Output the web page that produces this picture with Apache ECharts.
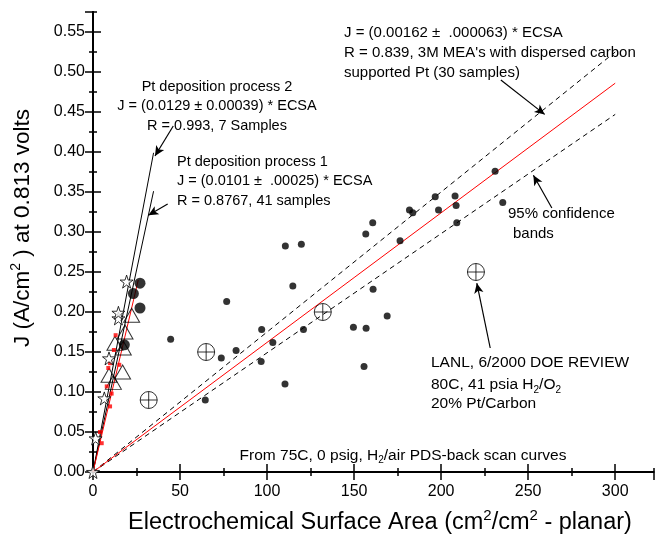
<!DOCTYPE html>
<html>
<head>
<meta charset="utf-8">
<script src="https://cdn.jsdelivr.net/npm/echarts@6/dist/echarts.min.js"></script>
<style>html,body{margin:0;padding:0;background:#fff;}#c{width:660px;height:534px;}</style>
</head>
<body>
<div id="c"></div>
<script>
// ---- data ----
const xTicks = [0, 50, 100, 150, 200, 250, 300];
const yTicks = [0, 0.05, 0.1, 0.15, 0.2, 0.25, 0.3, 0.35, 0.4, 0.45, 0.5, 0.55];
// 3M MEA's with dispersed carbon supported Pt (30 samples)
const mea3M = [[44.6,0.166],[64.5,0.090],[73.7,0.1425],[76.8,0.213],[82.2,0.152],[96.6,0.138],[96.9,0.178],[103.3,0.162],[110.3,0.110],[110.5,0.2825],[114.8,0.2325],[119.7,0.2846],[120.9,0.178],[149.6,0.181],[155.7,0.132],[156.7,0.2975],[156.9,0.1796],[160.7,0.3116],[160.9,0.2283],[169,0.195],[176.4,0.289],[181.8,0.3275],[183.7,0.324],[196.6,0.344],[198.5,0.3275],[208,0.345],[208.6,0.333],[209,0.3117],[231,0.376],[235.4,0.337]];
// LANL reference points
const lanl = [[32,0.09],[65,0.15],[132,0.20],[220,0.25]];
// Pt deposition process 2 (stars)
const process2 = [[0,0],[1.5,0.042],[6.5,0.092],[9.2,0.142],[14.6,0.192],[14.6,0.199],[19.3,0.238]];
// Pt deposition process 1
const process1Red = [[4,0.050],[5,0.036],[7.9,0.107],[8.8,0.130],[9.8,0.136],[9.8,0.082],[10.7,0.098],[12,0.1525],[13,0.171],[15.1,0.134]];
const process1Tri = [[22.2,0.196],[18.4,0.175],[12.6,0.161],[17.4,0.155],[17,0.125],[9.2,0.121],[11.7,0.112]];
const process1Big = [[27,0.236],[27,0.205],[23.2,0.223],[18,0.159]];
// fitted lines (through origin)
const fit3M = [[0,0],[300,0.486]];
const bandUpper = [[0,0],[300,0.525]];
const bandLower = [[0,0],[300,0.447]];
const fitProcess2 = [[0,0],[34.8,0.399]];
const fitProcess1 = [[0,0],[34.8,0.351]];
const fitCluster = [[0,0],[26,0.240]];
// annotation arrows [from, to]
const arrows = [
  [[46.1,0.4325],[35.6,0.395]],
  [[42.9,0.335],[31.8,0.321]],
  [[234.3,0.490],[259.5,0.447]],
  [[263.6,0.330],[253,0.371]],
  [[228.2,0.155],[220.5,0.236]]
];

const FONT = 'Liberation Sans, Arial, sans-serif';
const starPath = 'path://M50,0 L61.8,35.1 L98.9,35.1 L68.8,56.8 L80.2,91.9 L50,70.2 L19.8,91.9 L31.2,56.8 L1.1,35.1 L38.2,35.1 Z';
const crossCircle = 'path://M50,0 A50,50 0 1 1 50,100 A50,50 0 1 1 50,0 Z M0,50 L100,50 M50,0 L50,100';

const chart = echarts.init(document.getElementById('c'), null, {renderer:'canvas'});

function axisX(pos, interval, len, labels, line) {
  return {
    type:'value', position:pos, min:0, max:322, interval:interval,
    axisLine:{show:line, lineStyle:{color:'#000', width:2}},
    axisTick:{show:true, inside:true, length:len, lineStyle:{color:'#000', width:1.5}},
    axisLabel:{show:labels, color:'#000', fontSize:16, fontFamily:FONT, margin:12, showMaxLabel:false,
      formatter: v => xTicks.indexOf(v) >= 0 ? String(v) : ''},
    splitLine:{show:false}
  };
}
function axisY(pos, interval, len, labels, line) {
  return {
    type:'value', position:pos, min:0, max:0.575, interval:interval,
    axisLine:{show:line, lineStyle:{color:'#000', width:2}},
    axisTick:{show:true, inside:true, length:len, lineStyle:{color:'#000', width:1.5}},
    axisLabel:{show:labels, color:'#000', fontSize:16, fontFamily:FONT, margin:8, showMaxLabel:false,
      formatter: v => { const t = yTicks.find(k => Math.abs(k - v) < 1e-9); return t === undefined ? '' : t.toFixed(2); }},
    splitLine:{show:false}
  };
}

function lineSeries(data, color, type) {
  return {type:'line', data:data, showSymbol:false, symbol:'none', silent:true, z:2,
    lineStyle:{color:color, width:1, type:type}};
}

const option = {
  animation:false,
  backgroundColor:'#fff',
  grid:{left:93, right:6.5, top:12, bottom:62, containLabel:false},
  xAxis:[axisX('bottom',50,8,true,true), axisX('bottom',25,4,false,false), axisX('top',50,8,false,true), axisX('top',25,4,false,false)],
  yAxis:[axisY('left',0.05,8,true,true), axisY('left',0.025,4,false,false), axisY('right',0.05,8,false,true), axisY('right',0.025,4,false,false)],
  series:[
    lineSeries(bandUpper,'#000',[5,4]),
    lineSeries(bandLower,'#000',[5,4]),
    lineSeries(fit3M,'#ff0000','solid'),
    lineSeries(fitProcess2,'#000','solid'),
    lineSeries(fitProcess1,'#000','solid'),
    lineSeries(fitCluster,'#ff0000','solid'),
    {type:'scatter', data:mea3M, symbol:'circle', symbolSize:7, itemStyle:{color:'#000'}, z:3},
    {type:'scatter', data:process1Big, symbol:'circle', symbolSize:11, itemStyle:{color:'#000'}, z:3},
    {type:'scatter', data:process1Tri, symbol:'triangle', symbolSize:[16,14], itemStyle:{color:'rgba(255,255,255,0)', borderColor:'#000', borderWidth:1}, z:4},
    {type:'scatter', data:process1Red, symbol:'rect', symbolSize:4, itemStyle:{color:'#ff0000'}, z:5},
    {type:'scatter', data:process2, symbol:starPath, symbolSize:13, itemStyle:{color:'#fff', borderColor:'#000', borderWidth:1}, z:6},
    {type:'scatter', data:lanl, symbol:crossCircle, symbolSize:17, itemStyle:{color:'rgba(255,255,255,0)', borderColor:'#000', borderWidth:1}, z:6},
    {type:'scatter', data:[], z:7, silent:true,
      markLine:{silent:true, symbol:['none','arrow'], symbolSize:[7,10], animation:false,
        label:{show:false}, lineStyle:{color:'#000', width:1.2, type:'solid'},
        data: arrows.map(a => [{coord:a[0]},{coord:a[1]}])}}
  ],
  graphic:[
    {type:'text', x:344, y:23, style:{text:"J = (0.00162 ±  .000063) * ECSA\nR = 0.839, 3M MEA's with dispersed carbon\nsupported Pt (30 samples)", font:'15px '+FONT, lineHeight:20, fill:'#000'}},
    {type:'text', x:217, y:77, style:{text:"Pt deposition process 2\nJ = (0.0129 ± 0.00039) * ECSA\nR = 0.993, 7 Samples", font:'14.5px '+FONT, lineHeight:19.5, fill:'#000', align:'center'}},
    {type:'text', x:177, y:152, style:{text:"Pt deposition process 1\nJ = (0.0101 ±  .00025) * ECSA\nR = 0.8767, 41 samples", font:'14.5px '+FONT, lineHeight:19.5, fill:'#000'}},
    {type:'text', x:508, y:206, style:{text:"95% confidence", font:'15px '+FONT, fill:'#000'}},
    {type:'text', x:513, y:226, style:{text:"bands", font:'15px '+FONT, fill:'#000'}},
    {type:'text', x:431, y:355, style:{text:"LANL, 6/2000 DOE REVIEW", font:'15.5px '+FONT, fill:'#000'}},
    {type:'text', x:431, y:375, style:{text:"{n|80C, 41 psia H}{sub|2}{n|/O}{sub|2}", rich:{n:{fontSize:15.5, fontFamily:FONT, lineHeight:20, fill:'#000'}, sub:{fontSize:10, fontFamily:FONT, lineHeight:10, verticalAlign:'bottom', fill:'#000'}}}},
    {type:'text', x:431, y:396, style:{text:"20% Pt/Carbon", font:'15.5px '+FONT, fill:'#000'}},
    {type:'text', x:403, y:446, style:{text:"{n|From 75C, 0 psig, H}{sub|2}{n|/air PDS-back scan curves}", align:'center', rich:{n:{fontSize:15.5, fontFamily:FONT, lineHeight:19, fill:'#000'}, sub:{fontSize:10, fontFamily:FONT, lineHeight:10, verticalAlign:'bottom', fill:'#000'}}}},
    {type:'text', x:380, y:508, style:{text:"{n|Electrochemical Surface Area (cm}{sup|2}{n|/cm}{sup|2}{n| - planar)}", align:'center', rich:{n:{fontSize:23.5, fontFamily:FONT, lineHeight:30, fill:'#000'}, sup:{fontSize:15, fontFamily:FONT, lineHeight:15, verticalAlign:'top', fill:'#000'}}}},
    {type:'text', x:23, y:228, rotation:Math.PI/2, style:{text:"{n|J (A/cm}{sup|2}{n| ) at 0.813 volts}", align:'center', verticalAlign:'middle', rich:{n:{fontSize:22.5, fontFamily:FONT, lineHeight:27, fill:'#000'}, sup:{fontSize:14, fontFamily:FONT, lineHeight:14, verticalAlign:'top', fill:'#000'}}}}
  ]
};
chart.setOption(option);
</script>
</body>
</html>
